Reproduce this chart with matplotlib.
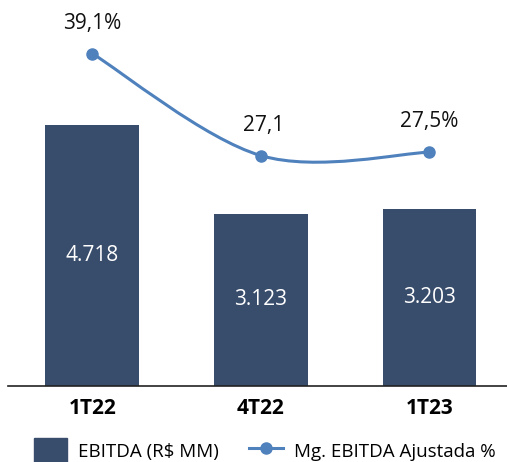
import matplotlib
matplotlib.use("Agg")
import matplotlib.pyplot as plt
from matplotlib.path import Path
from matplotlib.patches import PathPatch, Patch
from matplotlib.lines import Line2D

categories = ["1T22", "4T22", "1T23"]
ebitda = [4718, 3123, 3203]
ebitda_labels = ["4.718", "3.123", "3.203"]
margin = [39.1, 27.1, 27.5]
margin_labels = ["39,1%", "27,1", "27,5%"]

bar_color = "#384c6b"
line_color = "#4f81bd"
font = ["Open Sans", "DejaVu Sans"]

W, H = 507, 462
fig = plt.figure(figsize=(W / 100, H / 100), dpi=100)
ax = fig.add_axes([8 / W, 1 - 386 / H, (W - 8) / W, 386 / H])
x = list(range(len(categories)))
ax.bar(x, ebitda, width=0.556, color=bar_color, zorder=2)
ax.set_xlim(-0.5, 2.46)
ax.set_ylim(0, 6990)
for xi, v, lab in zip(x, ebitda, ebitda_labels):
    ax.text(xi, v / 2, lab, ha="center", va="center", color="white",
            fontsize=15, family=font)
for s in ["top", "right", "left"]:
    ax.spines[s].set_visible(False)
ax.spines["bottom"].set_color("#222222")
ax.spines["bottom"].set_linewidth(1.2)
ax.set_yticks([])
ax.set_xticks(x)
ax.set_xticklabels(categories, fontsize=15, fontweight="bold", family=font)
ax.tick_params(axis="x", length=0, pad=9)

ax2 = ax.twinx()
ax2.set_ylim(0, 45.4)
ax2.set_yticks([])
for s in ax2.spines.values():
    s.set_visible(False)

# smooth line via Catmull-Rom -> Bezier
pts = list(zip(x, margin))
verts = [pts[0]]
codes = [Path.MOVETO]
n = len(pts)
for i in range(n - 1):
    p0 = pts[i - 1] if i > 0 else pts[i]
    p1 = pts[i]
    p2 = pts[i + 1]
    p3 = pts[i + 2] if i + 2 < n else pts[i + 1]
    t = 1 / 6
    c1 = (p1[0] + (p2[0] - p0[0]) * t, p1[1] + (p2[1] - p0[1]) * t)
    c2 = (p2[0] - (p3[0] - p1[0]) * t, p2[1] - (p3[1] - p1[1]) * t)
    verts += [c1, c2, p2]
    codes += [Path.CURVE4] * 3
ax2.add_patch(PathPatch(Path(verts, codes), fill=False, edgecolor=line_color,
                        lw=2.2, zorder=3))
ax2.plot(x, margin, "o", color=line_color, ms=8, zorder=4)
offsets = [(0, 22), (2, 22), (0, 22)]
for xi, v, lab, off in zip(x, margin, margin_labels, offsets):
    ax2.annotate(lab, (xi, v), xytext=off, textcoords="offset points",
                 ha="center", va="center", fontsize=15, family=font,
                 color="#111111")

handles = [Patch(color=bar_color),
           Line2D([0], [0], color=line_color, lw=2.2, marker="o", ms=8)]
fig.legend(handles, ["EBITDA (R$ MM)", "Mg. EBITDA Ajustada %"],
           loc="center left", bbox_to_anchor=(26 / W, 1 - 451 / H), ncol=2,
           frameon=False, prop={"family": font, "size": 13.5},
           handlelength=1.8, handleheight=1.7, columnspacing=1.6,
           handletextpad=0.6, borderaxespad=0)

fig.savefig("out.png", dpi=100)
